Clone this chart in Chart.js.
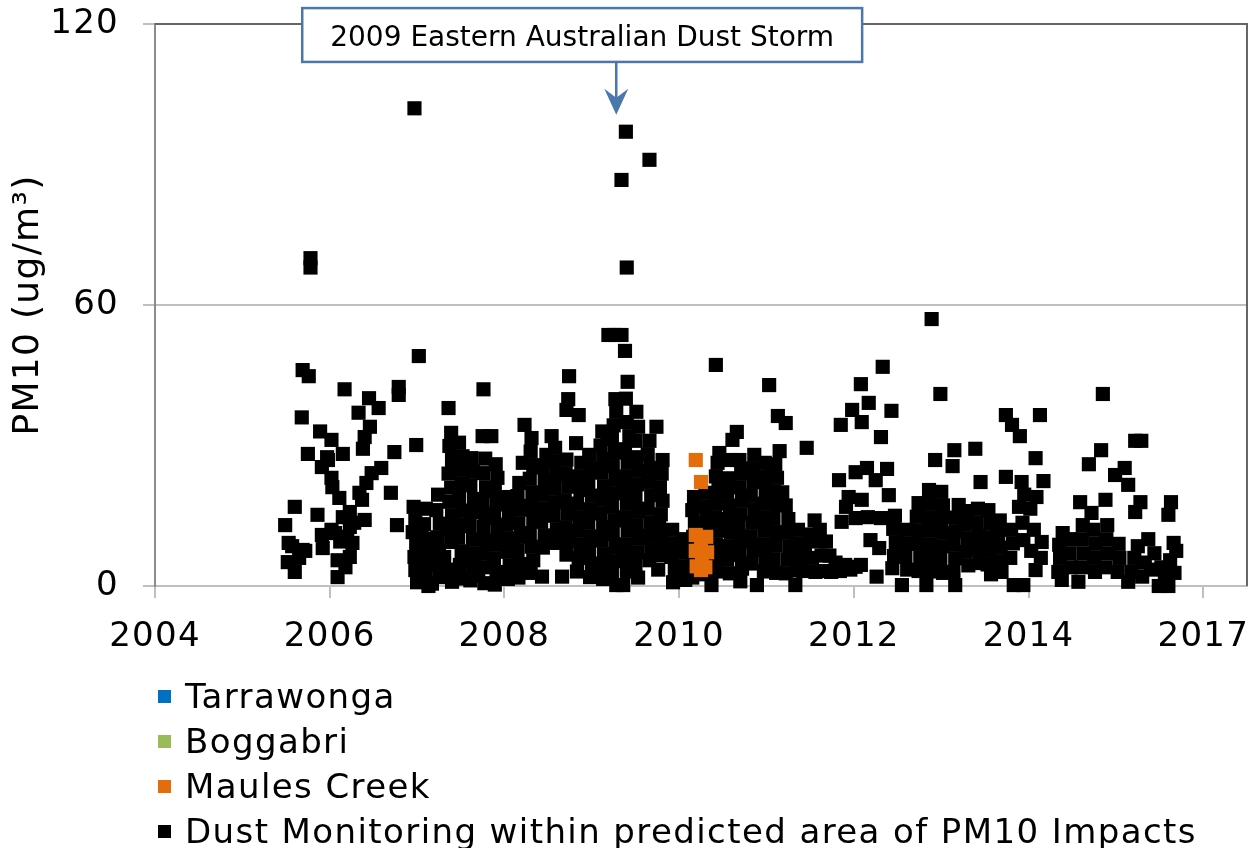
<!DOCTYPE html>
<html>
<head>
<meta charset="utf-8">
<script src="https://cdn.jsdelivr.net/npm/chart.js@4.4.1/dist/chart.umd.min.js"></script>
<style>
  body { margin: 0; background: #fff; }
  #wrap { position: relative; width: 1257px; height: 848px; }
  #legend { position: absolute; left: 158px; top: 674px; font-family: 'DejaVu Sans'; font-size: 34px; line-height: 45px; letter-spacing: 1.4px; color: #000; }
  .item { position: relative; padding-left: 27px; white-space: nowrap; }
  .box { position: absolute; left: 0; top: 16px; width: 13px; height: 13px; }
</style>
</head>
<body>
<div id="wrap">
  <canvas id="myChart" width="1257" height="848"></canvas>
  <div id="legend"></div>
</div>
<script>
// series names / colours
const seriesNames = ['Tarrawonga', 'Boggabri', 'Maules Creek', 'Dust Monitoring within predicted area of PM10 Impacts']
const seriesColors = ['#0070c0', '#9bbb59', '#e46c0a', '#000000']

// axis ticks
const xTickValues = [2004, 2006, 2008, 2010, 2012, 2014, 2016]
const xTickLabels = ['2004', '2006', '2008', '2010', '2012', '2014', '2017']
const yTickValues = [0, 60, 120]

// [decimal year, PM10 ug/m3]
const tarrawonga = []
const boggabri = []
const maulesCreek = [[2010.19,26.9],[2010.25,22.2],[2010.19,10.9],[2010.19,7.5],[2010.2,4.2],[2010.25,9.5],[2010.26,6.0],[2010.25,3.4],[2010.31,10.5],[2010.32,7.2],[2010.3,4.0]]

const dust2005 = [[2005.49,13.0],[2005.52,5.1],[2005.53,9.2],[2005.57,8.5],[2005.6,3.0],[2005.6,16.9],[2005.65,6.0],[2005.68,36.0],[2005.69,46.1],[2005.69,7.7],[2005.72,7.5],[2005.75,28.2],[2005.76,44.8],[2005.78,70.0],[2005.78,68.0],[2005.86,15.2],[2005.89,33.0],[2005.91,25.4],[2005.91,10.9],[2005.92,8.1],[2005.97,27.5],[2005.98,26.9]]
const dust2006 = [[2006.02,31.2],[2006.02,23.1],[2006.02,12.0],[2006.03,21.1],[2006.06,11.3],[2006.09,5.5],[2006.09,1.9],[2006.11,18.8],[2006.12,9.5],[2006.15,28.2],[2006.15,14.7],[2006.17,42.0],[2006.18,4.0],[2006.2,10.5],[2006.23,15.8],[2006.23,12.6],[2006.23,6.2],[2006.26,9.2],[2006.28,13.5],[2006.33,37.0],[2006.34,19.9],[2006.37,18.4],[2006.38,29.3],[2006.4,31.8],[2006.4,14.1],[2006.42,22.0],[2006.45,40.1],[2006.46,34.0],[2006.48,24.1],[2006.56,38.0],[2006.59,25.2],[2006.7,19.9],[2006.74,28.6],[2006.77,13.0],[2006.79,42.5],[2006.79,40.8],[2006.97,102.0],[2006.99,30.1],
  [2006.96,16.9],[2006.98,14.0],[2006.95,11.5],[2006.99,9.0],[2006.97,6.2],[2006.98,3.4]]
const dust2007 = [[2007.0,0.8],[2007.02,49.1],
  [2007.1,16.5],[2007.08,13.2],[2007.12,10.1],[2007.09,7.4],[2007.11,4.5],[2007.1,1.5],[2007.13,0],[2007.04,2.5],[2007.05,11.8],
  [2007.24,19.5],[2007.22,16.2],[2007.26,13.3],[2007.23,10.4],[2007.25,7.6],[2007.22,4.8],[2007.26,1.9],[2007.17,0.5],[2007.17,8.8],
  [2007.36,38.0],[2007.39,32.7],[2007.37,29.9],[2007.4,26.9],[2007.36,24.0],[2007.39,21.0],[2007.37,18.0],[2007.4,15.1],[2007.36,12.2],[2007.39,9.4],[2007.37,3.5],[2007.4,0.9],[2007.31,6.2],
  [2007.48,30.6],[2007.52,27.7],[2007.49,24.8],[2007.51,21.9],[2007.48,19.0],[2007.52,16.1],[2007.5,13.2],[2007.47,10.3],[2007.51,7.4],[2007.49,4.5],[2007.52,1.6],
  [2007.62,27.3],[2007.64,24.4],[2007.61,21.5],[2007.65,18.6],[2007.63,15.7],[2007.6,12.8],[2007.64,9.9],[2007.62,7.0],[2007.65,4.1],[2007.61,1.2],[2007.56,5.8],
  [2007.76,42.0],[2007.75,32.0],[2007.78,27.2],[2007.76,24.1],[2007.79,21.1],[2007.75,18.3],[2007.78,15.4],[2007.76,12.6],[2007.79,9.7],[2007.75,6.9],[2007.78,4.0],[2007.77,0.6],[2007.7,2.2],
  [2007.85,32.0],[2007.9,26.0],[2007.92,23.1],[2007.89,20.3],[2007.91,17.4],[2007.88,14.5],[2007.92,11.6],[2007.9,8.8],[2007.88,5.9],[2007.91,3.0],[2007.89,0.3]]
const dust2008 = [[2008.03,19.0],[2008.05,16.0],[2008.02,13.1],[2008.05,10.2],[2008.03,7.3],[2008.06,4.4],[2008.04,1.5],[2008.1,8.8],
  [2008.21,26.3],[2008.17,22.0],[2008.15,19.2],[2008.18,16.3],[2008.16,13.4],[2008.19,10.5],[2008.15,7.6],[2008.18,4.7],[2008.16,1.8],
  [2008.23,34.4],[2008.31,31.6],[2008.3,28.7],[2008.33,25.8],[2008.29,22.9],[2008.32,20.0],[2008.3,17.1],[2008.33,14.2],[2008.29,11.3],[2008.31,8.4],[2008.33,5.5],[2008.3,2.8],
  [2008.48,28.0],[2008.44,25.3],[2008.46,22.4],[2008.43,19.5],[2008.45,16.6],[2008.42,13.7],[2008.46,10.8],[2008.44,8.2],[2008.43,2.0],
  [2008.54,32.0],[2008.58,29.5],[2008.56,26.6],[2008.6,23.7],[2008.57,20.8],[2008.59,17.9],[2008.56,15.0],[2008.6,12.1],[2008.58,9.2],[2008.66,2.0],
  [2008.74,44.8],[2008.73,39.9],[2008.71,37.6],[2008.71,27.0],[2008.7,24.1],[2008.73,21.2],[2008.69,18.3],[2008.72,15.4],[2008.7,12.5],[2008.73,9.6],[2008.71,6.7],
  [2008.85,36.5],[2008.82,30.5],[2008.88,26.3],[2008.84,23.4],[2008.87,20.5],[2008.83,17.6],[2008.86,14.7],[2008.84,11.8],[2008.87,8.9],[2008.85,6.0],[2008.83,3.1],
  [2008.97,28.0],[2008.99,25.1],[2008.96,22.2],[2009.0,19.3],[2008.98,16.4],[2008.96,13.5],[2008.99,10.6],[2008.97,7.7],[2009.0,4.8],[2008.98,1.9]]
const dust2009 = [[2009.12,33.0],[2009.18,31.8],[2009.1,30.0],[2009.13,27.1],[2009.11,24.2],[2009.14,21.3],[2009.12,18.4],[2009.1,15.5],[2009.13,12.6],[2009.11,9.7],[2009.14,6.8],[2009.12,3.9],[2009.13,1.5],
  [2009.19,53.6],[2009.26,53.6],[2009.34,53.6],[2009.27,39.9],[2009.28,37.2],[2009.25,34.3],[2009.23,31.4],[2009.26,28.5],[2009.24,25.6],[2009.27,22.7],[2009.25,19.8],[2009.23,16.9],[2009.26,14.0],[2009.24,11.1],[2009.27,8.2],[2009.25,5.3],[2009.23,2.4],[2009.28,0.2],
  [2009.39,97.0],[2009.34,86.7],[2009.4,68.0],[2009.38,50.2],[2009.41,43.6],[2009.39,40.0],[2009.4,35.0],[2009.43,32.0],[2009.38,29.2],[2009.41,26.3],[2009.39,23.4],[2009.37,20.5],[2009.4,17.6],[2009.38,14.7],[2009.41,11.8],[2009.39,8.9],[2009.37,6.0],[2009.4,3.1],[2009.36,0.2],
  [2009.51,37.2],[2009.53,34.0],[2009.5,31.0],[2009.51,27.5],[2009.54,24.6],[2009.52,21.7],[2009.5,18.8],[2009.53,15.9],[2009.51,13.0],[2009.54,10.1],[2009.52,7.2],[2009.5,4.3],[2009.53,1.8],
  [2009.66,91.0],[2009.74,34.0],[2009.66,31.0],[2009.64,28.1],[2009.67,25.2],[2009.65,22.3],[2009.68,19.4],[2009.64,16.5],[2009.67,13.6],[2009.65,10.7],[2009.68,7.8],[2009.66,5.5],
  [2009.81,26.9],[2009.8,24.0],[2009.78,21.1],[2009.81,18.2],[2009.79,15.3],[2009.77,12.4],[2009.8,9.5],[2009.78,6.6],[2009.76,3.5],
  [2009.92,12.0],[2009.94,9.1],[2009.91,6.2],[2009.95,3.3],[2009.93,0.8]]
const dust2010 = [[2010.04,10.0],[2010.06,7.1],[2010.03,4.2],[2010.07,1.3],
  [2010.17,19.0],[2010.15,16.2],[2010.18,13.4],[2010.16,10.5],[2010.14,7.6],[2010.17,4.7],[2010.15,1.8],
  [2010.3,19.9],[2010.28,17.0],[2010.31,14.1],[2010.29,11.2],[2010.32,8.3],[2010.3,5.4],[2010.28,2.5],[2010.37,0.2],
  [2010.42,47.2],[2010.46,28.4],[2010.44,26.3],[2010.42,23.4],[2010.45,20.5],[2010.43,17.6],[2010.41,14.7],[2010.44,11.8],[2010.42,8.9],[2010.45,6.0],[2010.43,3.1],
  [2010.66,32.9],[2010.61,31.2],[2010.59,26.9],[2010.57,23.0],[2010.55,20.1],[2010.58,17.2],[2010.56,14.3],[2010.59,11.4],[2010.57,8.5],[2010.55,5.6],[2010.58,2.7],
  [2010.69,26.9],[2010.71,24.0],[2010.69,21.1],[2010.72,18.2],[2010.7,15.3],[2010.68,12.4],[2010.71,9.5],[2010.69,6.6],[2010.72,3.7],[2010.7,1.0],
  [2010.86,28.0],[2010.83,25.1],[2010.85,22.2],[2010.82,19.3],[2010.86,16.4],[2010.84,13.5],[2010.82,10.6],[2010.85,7.7],[2010.83,4.8],[2010.89,0.2],
  [2010.98,26.3],[2010.96,23.4],[2010.99,20.5],[2010.97,17.6],[2010.95,14.7],[2010.98,11.8],[2010.96,8.9],[2010.99,6.0],[2010.97,3.1]]
const dust2011 = [[2011.03,42.9],[2011.13,36.3],[2011.22,34.8],[2011.15,28.8],[2011.1,26.0],[2011.06,24.3],[2011.12,23.1],[2011.09,20.2],[2011.11,17.3],[2011.08,14.4],[2011.12,11.5],[2011.1,8.6],[2011.08,5.7],[2011.11,2.8],
  [2011.18,20.0],[2011.22,17.2],[2011.25,14.3],[2011.23,11.4],[2011.26,8.5],[2011.24,5.6],[2011.22,2.7],
  [2011.36,12.0],[2011.34,9.1],[2011.37,6.2],[2011.35,3.3],[2011.33,0.2],[2011.46,29.5],
  [2011.39,5.5],[2011.42,3.2],[2011.44,8.5],[2011.49,11.0],[2011.52,6.0],[2011.55,14.0],[2011.56,3.0],[2011.58,9.5],[2011.61,12.0],[2011.63,6.5],[2011.66,3.2],[2011.68,9.5],[2011.72,6.5],[2011.74,3.0],[2011.79,5.0],[2011.84,3.2],[2011.9,4.5],[2011.96,3.5],
  [2011.85,34.4],[2011.98,37.6],[2011.83,22.6],[2011.94,19.0],[2011.91,16.9],[2011.86,13.7]]
const dust2012 = [[2012.08,43.1],[2012.17,39.1],[2012.09,35.0],[2012.33,46.8],[2012.43,37.4],[2012.31,31.8],[2012.02,24.3],[2012.15,25.2],[2012.38,25.0],[2012.25,22.6],[2012.4,19.4],[2012.09,18.4],[2012.02,14.5],[2012.16,14.7],[2012.31,14.5],[2012.19,9.8],[2012.29,8.1],[2012.26,2.0],[2012.02,4.1],[2012.08,4.5],
  [2012.47,15.0],[2012.45,12.2],[2012.48,9.3],[2012.46,6.4],[2012.44,3.8],[2012.55,0.2],
  [2012.6,12.0],[2012.62,9.1],[2012.59,6.2],[2012.61,3.5],
  [2012.74,17.7],[2012.72,14.8],[2012.75,11.9],[2012.73,9.0],[2012.76,6.1],[2012.74,3.2],
  [2012.86,20.5],[2012.93,26.9],[2012.89,57.0],[2012.88,17.6],[2012.86,14.7],[2012.89,11.8],[2012.87,8.9],[2012.85,6.0],[2012.88,3.1],[2012.83,0.2],
  [2012.99,41.0],[2013.0,20.1],[2013.02,17.2],[2013.0,14.3],[2013.03,11.4],[2013.01,8.5],[2012.99,5.6],[2013.02,2.8]]
const dust2013 = [[2013.15,29.0],[2013.13,25.6],[2013.2,17.3],[2013.15,14.6],[2013.17,11.7],[2013.14,8.8],[2013.16,5.9],[2013.14,3.0],[2013.16,0.2],
  [2013.29,16.0],[2013.27,13.1],[2013.3,10.2],[2013.28,7.3],[2013.31,4.4],
  [2013.39,29.3],[2013.45,22.2],[2013.42,16.5],[2013.4,13.6],[2013.43,10.7],[2013.41,7.8],[2013.44,4.9],
  [2013.54,16.2],[2013.56,13.3],[2013.53,10.4],[2013.55,7.5],[2013.53,4.6],[2013.57,2.5],
  [2013.74,36.5],[2013.81,34.4],[2013.9,32.0],[2013.74,23.3],[2013.67,14.0],[2013.65,11.1],[2013.68,8.2],[2013.66,5.3],[2013.69,3.0],
  [2013.8,12.0],[2013.82,9.1],[2013.79,6.0],[2013.83,0.2],[2013.92,22.2],[2013.89,16.9],[2013.94,9.8],[2013.94,0.2],[2013.95,19.5],[2013.93,13.5]]
const dust2014 = [[2014.13,36.5],[2014.08,27.3],[2014.17,22.4],[2014.09,19.0],[2014.02,16.5],[2014.06,12.0],[2014.15,9.4],[2014.14,6.0],[2014.08,3.4],[2014.03,7.5],
  [2014.34,3.0],[2014.36,6.0],[2014.39,11.3],[2014.35,8.8],
  [2014.38,1.3],[2014.48,4.0],[2014.47,7.0],[2014.49,10.0],[2014.57,0.9],
  [2014.59,17.9],[2014.62,13.0],[2014.6,4.0],[2014.63,7.0],[2014.61,10.0],[2014.72,15.6],[2014.69,26.0],
  [2014.76,3.0],[2014.75,6.0],[2014.77,9.0],[2014.74,12.0],[2014.83,29.0],[2014.85,41.0],
  [2014.88,18.4],[2014.9,13.0],[2014.89,10.0],[2014.91,7.0],[2014.88,4.0],[2014.99,23.7]]
const dust2015 = [[2015.02,3.0],[2015.04,6.0],[2015.03,9.0],
  [2015.1,25.2],[2015.14,21.6],[2015.22,31.0],[2015.29,31.0],[2015.28,17.9],[2015.22,15.8],[2015.37,10.0],[2015.6,15.2],[2015.63,17.9],[2015.66,9.2],
  [2015.14,0.9],[2015.18,3.0],[2015.21,6.0],[2015.25,8.5],[2015.3,2.0],[2015.33,5.0],[2015.4,3.5],[2015.44,7.0],[2015.49,0],[2015.52,4.0],[2015.56,1.8],[2015.6,0],[2015.62,5.5],[2015.67,2.8],[2015.69,7.5]]

const dustMonitoring = [].concat(dust2005, dust2006, dust2007, dust2008, dust2009, dust2010, dust2011, dust2012, dust2013, dust2014, dust2015)

// annotation anchor (data units)
const annotationText = '2009 Eastern Australian Dust Storm'
const annotationAt = { boxX: 2008.89, boxTop: 123.4, boxBottom: 111.9, arrowX: 2009.28, arrowFrom: 111.7, arrowTo: 100.6 }

const toPoints = (arr) => arr.map(p => ({ x: p[0], y: p[1] }))
const allSeries = [tarrawonga, boggabri, maulesCreek, dustMonitoring]

Chart.defaults.font.family = 'DejaVu Sans'
Chart.defaults.color = '#000'

const frameAndNote = {
  id: 'frameAndNote',
  beforeDraw(chart) {
    // the original text is set a little wider than DejaVu
    chart.ctx.letterSpacing = '1.3px'
  },
  beforeDatasetsDraw(chart) {
    const { ctx, chartArea: a } = chart
    ctx.save()
    ctx.strokeStyle = '#666666'
    ctx.lineWidth = 2
    ctx.beginPath()
    ctx.moveTo(a.left, a.top)
    ctx.lineTo(a.right, a.top)
    ctx.lineTo(a.right, a.bottom)
    ctx.stroke()
    ctx.restore()
  },
  afterDraw(chart) {
    const { ctx, scales: { x, y } } = chart
    const blue = '#4a78ab'
    ctx.save()
    ctx.letterSpacing = '0px'
    ctx.font = '28px "DejaVu Sans"'
    const tw = ctx.measureText(annotationText).width
    const cx = x.getPixelForValue(annotationAt.boxX)
    const top = y.getPixelForValue(annotationAt.boxTop)
    const bot = y.getPixelForValue(annotationAt.boxBottom)
    const w = tw + 56
    ctx.fillStyle = '#fff'
    ctx.fillRect(cx - w / 2, top, w, bot - top)
    ctx.strokeStyle = blue
    ctx.lineWidth = 2.5
    ctx.strokeRect(cx - w / 2, top, w, bot - top)
    ctx.fillStyle = '#000'
    ctx.textAlign = 'center'
    ctx.textBaseline = 'middle'
    ctx.fillText(annotationText, cx, (top + bot) / 2 + 4)
    // arrow
    const ax = x.getPixelForValue(annotationAt.arrowX)
    const ay1 = y.getPixelForValue(annotationAt.arrowFrom)
    const ay2 = y.getPixelForValue(annotationAt.arrowTo)
    ctx.strokeStyle = blue
    ctx.lineWidth = 2.5
    ctx.beginPath()
    ctx.moveTo(ax, ay1)
    ctx.lineTo(ax, ay2 - 12)
    ctx.stroke()
    ctx.fillStyle = blue
    ctx.beginPath()
    ctx.moveTo(ax, ay2)
    ctx.lineTo(ax - 12, ay2 - 26)
    ctx.lineTo(ax, ay2 - 17)
    ctx.lineTo(ax + 12, ay2 - 26)
    ctx.closePath()
    ctx.fill()
    ctx.restore()
  }
}

var ctx = document.getElementById('myChart').getContext('2d')

var myChart = new Chart(ctx, {
  type: 'scatter',
  data: {
    datasets: allSeries.map((s, i) => ({
      label: seriesNames[i],
      data: toPoints(s),
      backgroundColor: seriesColors[i],
      borderWidth: 0,
      pointStyle: 'rect',
      pointRadius: 10,
      pointHoverRadius: 10,
      clip: false
    }))
  },
  options: {
    responsive: false,
    animation: false,
    layout: { padding: { top: 24, right: 9, left: 0, bottom: 0 } },
    plugins: {
      legend: { display: false },
      tooltip: { enabled: false }
    },
    scales: {
      x: {
        type: 'linear',
        min: 2004,
        max: 2016.5,
        afterBuildTicks: (s) => { s.ticks = xTickValues.map(v => ({ value: v })) },
        afterFit: (s) => { s.height = 262; s.paddingLeft = 0; s.paddingRight = 0 },
        ticks: {
          font: { size: 34 },
          padding: 19,
          maxRotation: 0,
          autoSkip: false,
          callback: (v, i) => xTickLabels[i]
        },
        grid: { drawOnChartArea: false, drawTicks: true, tickLength: 12, color: '#bfbfbf', lineWidth: 2 },
        border: { display: true, color: '#bfbfbf', width: 2 }
      },
      y: {
        min: 0,
        max: 120,
        afterBuildTicks: (s) => { s.ticks = yTickValues.map(v => ({ value: v })) },
        afterFit: (s) => { s.width = 155; s.paddingTop = 0; s.paddingBottom = 0 },
        ticks: { font: { size: 34 }, padding: 24 },
        grid: { color: '#bfbfbf', lineWidth: 2, tickLength: 12 },
        border: { display: true, color: '#8c8c8c', width: 2 },
        title: {
          display: true,
          text: 'PM10 (ug/m³)',
          font: { size: 36 },
          padding: { top: 7, bottom: 0 }
        }
      }
    }
  },
  plugins: [frameAndNote]
})

// legend, one entry per line as in the original
const legendEl = document.getElementById('legend')
seriesNames.forEach((name, i) => {
  const row = document.createElement('div')
  row.className = 'item'
  const box = document.createElement('span')
  box.className = 'box'
  box.style.background = seriesColors[i]
  row.appendChild(box)
  row.appendChild(document.createTextNode(name))
  legendEl.appendChild(row)
})
</script>
</body>
</html>
